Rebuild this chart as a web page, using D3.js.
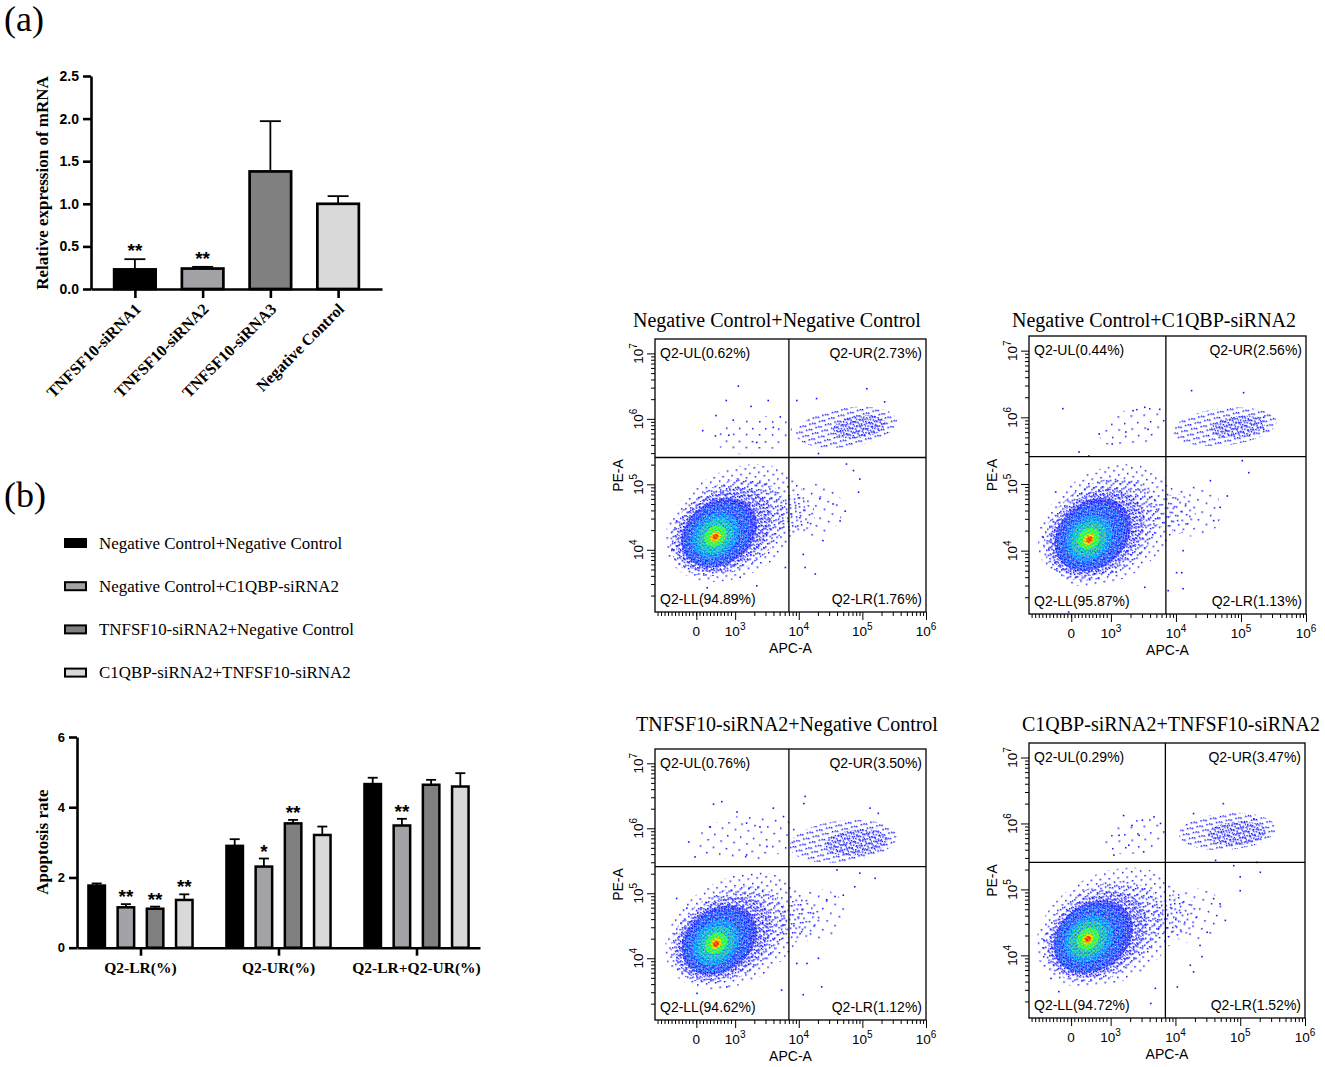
<!DOCTYPE html>
<html>
<head>
<meta charset="utf-8">
<script src="https://cdn.jsdelivr.net/npm/d3@7"></script>
<style>
  body { margin: 0; background: #fff; }
  svg { display: block; }
</style>
</head>
<body>
<svg id="fig" width="1325" height="1067"></svg>
<script>
// ---------- (a) relative mRNA expression ----------
const mrnaGroups = ["TNFSF10-siRNA1", "TNFSF10-siRNA2", "TNFSF10-siRNA3", "Negative Control"];
const mrnaMean = [0.23, 0.24, 1.38, 1.00];
const mrnaErr = [0.12, 0.02, 0.59, 0.09];
const mrnaSig = ["**", "**", "", ""];
const mrnaTicks = [0, 0.5, 1.0, 1.5, 2.0, 2.5];

// ---------- (b) apoptosis rate ----------
const apoSeries = ["Negative Control+Negative Control", "Negative Control+C1QBP-siRNA2",
  "TNFSF10-siRNA2+Negative Control", "C1QBP-siRNA2+TNFSF10-siRNA2"];
const apoGroups = ["Q2-LR(%)", "Q2-UR(%)", "Q2-LR+Q2-UR(%)"];
const apoMean = [[1.77, 1.15, 1.11, 1.36], [2.90, 2.31, 3.54, 3.21], [4.66, 3.48, 4.64, 4.59]];
const apoErr = [[0.06, 0.09, 0.06, 0.16], [0.19, 0.23, 0.10, 0.24], [0.18, 0.19, 0.14, 0.38]];
const apoSig = [["", "**", "**", "**"], ["", "*", "**", ""], ["", "**", "", ""]];
const apoTicks = [0, 2, 4, 6];

const barFills = ["#000000", "#a3a3a7", "#808080", "#d9d9d9"];

// ---------- flow cytometry panels (display decades, biexponential axis) ----------
const flowTitles = ["Negative Control+Negative Control", "Negative Control+C1QBP-siRNA2",
  "TNFSF10-siRNA2+Negative Control", "C1QBP-siRNA2+TNFSF10-siRNA2"];
// UL, UR, LL, LR
const flowQuadrants = [
  ["0.62", "2.73", "94.89", "1.76"],
  ["0.44", "2.56", "95.87", "1.13"],
  ["0.76", "3.50", "94.62", "1.12"],
  ["0.29", "3.47", "94.72", "1.52"]
];
const gateX = 3.845, gateY = 5.41;
const xTickValues = [2.39, 3, 4, 5, 6];
const xTickBase = ["0", "10", "10", "10", "10"];
const xTickExp = ["", "3", "4", "5", "6"];
const yTickValues = [4, 5, 6, 7];
const yTickExp = ["4", "5", "6", "7"];

// density layers: [layer, cx, cy, rx, ry, angle]
const flowPopulations = [
  [["halo", 3.00, 4.41, 1.18, 0.80, -30], ["sparse", 2.89, 4.34, 0.98, 0.66, -30],
   ["medium", 2.82, 4.30, 0.82, 0.57, -32], ["dense", 2.75, 4.26, 0.64, 0.48, -35],
   ["cyanSpeck", 2.72, 4.24, 0.56, 0.43, -38], ["cyan", 2.69, 4.22, 0.40, 0.31, -40],
   ["greenSpeck", 2.69, 4.21, 0.31, 0.24, -40], ["green", 2.69, 4.21, 0.19, 0.15, -42],
   ["yellow", 2.69, 4.20, 0.10, 0.075, -45], ["red", 2.69, 4.20, 0.05, 0.04, -45],
   ["halo", 3.95, 4.55, 0.30, 0.30, -30], ["trace", 4.25, 4.60, 0.45, 0.40, -30],
   ["trace", 3.30, 5.75, 0.60, 0.28, -10],
   ["sparse", 4.75, 5.87, 0.80, 0.30, -8], ["medium", 4.95, 5.88, 0.42, 0.17, -8]],
  [["halo", 2.95, 4.38, 1.15, 0.82, -32], ["sparse", 2.85, 4.32, 0.96, 0.68, -34],
   ["medium", 2.78, 4.27, 0.80, 0.58, -36], ["dense", 2.72, 4.24, 0.64, 0.49, -40],
   ["cyanSpeck", 2.69, 4.21, 0.56, 0.43, -42], ["cyan", 2.67, 4.19, 0.39, 0.31, -45],
   ["greenSpeck", 2.66, 4.18, 0.30, 0.24, -45], ["green", 2.66, 4.18, 0.18, 0.15, -45],
   ["yellow", 2.66, 4.17, 0.10, 0.075, -45], ["red", 2.67, 4.17, 0.05, 0.04, -45],
   ["halo", 4.00, 4.55, 0.30, 0.30, -30], ["trace", 4.30, 4.60, 0.40, 0.40, -30],
   ["trace", 3.35, 5.85, 0.55, 0.28, -15],
   ["sparse", 4.75, 5.86, 0.80, 0.28, -6], ["medium", 4.95, 5.86, 0.42, 0.16, -6]],
  [["halo", 3.00, 4.42, 1.18, 0.80, -30], ["sparse", 2.90, 4.36, 0.98, 0.66, -30],
   ["medium", 2.82, 4.31, 0.82, 0.57, -32], ["dense", 2.75, 4.28, 0.64, 0.48, -35],
   ["cyanSpeck", 2.72, 4.26, 0.56, 0.43, -38], ["cyan", 2.70, 4.24, 0.40, 0.31, -40],
   ["greenSpeck", 2.70, 4.23, 0.31, 0.24, -40], ["green", 2.70, 4.23, 0.19, 0.15, -42],
   ["yellow", 2.70, 4.23, 0.10, 0.075, -45], ["red", 2.70, 4.22, 0.05, 0.04, -45],
   ["halo", 4.00, 4.60, 0.35, 0.30, -30], ["trace", 4.30, 4.65, 0.45, 0.40, -30],
   ["trace", 3.20, 5.85, 0.80, 0.35, -5],
   ["sparse", 4.70, 5.80, 0.85, 0.32, -6], ["medium", 4.90, 5.78, 0.50, 0.20, -6]],
  [["halo", 2.98, 4.42, 1.20, 0.82, -28], ["sparse", 2.88, 4.36, 0.99, 0.68, -30],
   ["medium", 2.80, 4.31, 0.82, 0.58, -32], ["dense", 2.73, 4.28, 0.66, 0.50, -35],
   ["cyanSpeck", 2.69, 4.26, 0.58, 0.45, -38], ["cyan", 2.66, 4.25, 0.41, 0.32, -40],
   ["greenSpeck", 2.65, 4.25, 0.32, 0.25, -40], ["green", 2.65, 4.25, 0.19, 0.15, -42],
   ["yellow", 2.65, 4.25, 0.10, 0.075, -45], ["red", 2.65, 4.25, 0.05, 0.04, -45],
   ["halo", 4.00, 4.60, 0.35, 0.32, -35], ["trace", 4.30, 4.60, 0.45, 0.40, -35],
   ["trace", 3.40, 5.80, 0.50, 0.25, -15],
   ["sparse", 4.80, 5.88, 0.75, 0.28, -4], ["medium", 4.95, 5.85, 0.45, 0.18, -4]]
];

// isolated events: [APC, PE]
const flowEvents = [
  [[3.05,6.50],[2.86,6.28],[3.25,6.19],[3.52,6.28],[2.70,6.05],[2.97,5.98],[2.49,5.82],[2.69,5.74],
   [2.90,5.75],[3.34,5.64],[3.71,6.03],[3.60,5.87],[4.31,5.47],[4.75,5.31],[4.86,5.21],[4.96,5.08],
   [4.94,4.88],[4.73,4.59],[4.65,4.44],[4.38,4.14],[4.10,3.73],[4.26,3.63],[3.79,3.73],[4.07,3.93],
   [4.33,4.78],[4.54,4.70],[5.07,6.46],[5.35,6.26],[3.97,6.28],[4.28,6.31],[2.01,4.01],[2.56,3.42],
   [3.34,3.45],[3.08,3.58],[2.08,4.44]],
  [[2.26,6.13],[2.82,5.75],[3.02,5.60],[3.34,6.10],[3.52,6.15],[3.75,6.12],[3.57,5.82],[3.23,5.78],
   [2.51,5.48],[2.66,5.42],[4.24,6.40],[5.04,6.37],[5.35,6.00],[5.35,5.82],[5.02,5.35],[5.12,5.17],
   [4.53,5.05],[4.68,4.65],[4.58,4.45],[4.11,4.00],[4.01,3.67],[4.09,3.67],[3.88,3.40],[3.52,3.45],
   [3.08,3.68],[2.35,3.08],[1.96,4.20],[2.15,4.88],[4.11,3.43],[4.79,4.82]],
  [[2.79,6.41],[2.66,6.37],[3.03,6.25],[3.60,6.31],[4.10,6.49],[4.08,6.38],[3.76,6.18],[2.27,5.79],
   [2.37,5.56],[2.61,6.02],[3.18,6.08],[3.39,6.02],[3.50,5.72],[3.18,5.59],[5.12,6.31],[5.25,6.23],
   [4.60,5.36],[4.96,5.31],[5.20,5.23],[4.88,5.10],[4.57,4.95],[4.70,4.97],[4.44,4.90],[4.23,4.69],
   [4.02,4.38],[3.97,3.92],[4.13,3.92],[4.31,4.00],[4.36,3.56],[4.07,3.44],[3.73,3.51],[2.08,4.92],
   [2.24,4.77],[2.40,3.46],[2.87,3.56]],
  [[3.20,6.12],[3.33,5.97],[3.49,6.05],[3.13,5.82],[3.28,5.67],[3.67,6.10],[3.44,5.82],[3.05,5.52],
   [3.51,5.57],[3.77,6.00],[4.28,6.15],[4.74,6.30],[5.21,6.07],[4.62,5.44],[4.90,5.36],[5.26,5.41],
   [5.31,5.26],[5.00,5.19],[5.00,4.98],[4.59,4.86],[4.69,4.78],[4.77,4.53],[4.38,4.15],[4.41,3.98],
   [4.49,4.35],[4.23,3.85],[4.03,3.52],[3.69,3.50],[3.62,3.27],[2.20,3.45],[2.08,3.65],[1.97,4.23],
   [4.28,3.75]]
];

// ---------- layout ----------
const SANS = "'Liberation Sans', Arial, sans-serif";
const SERIF = "'Liberation Serif', 'Times New Roman', serif";
const BLUE = "#1212ff";

const flowBoxes = [
  { l: 655, r: 926, t: 339, b: 612, tx: 777, ty: 327 },
  { l: 1029, r: 1306, t: 336, b: 614, tx: 1154, ty: 327 },
  { l: 655, r: 926, t: 749, b: 1020, tx: 787, ty: 731 },
  { l: 1029, r: 1305, t: 743, b: 1018, tx: 1171, ty: 731 }
];
const flowXDomain = [1.74, 6.0];
const flowYDomain = [3.05, 7.22];

// dot textures used to shade the density layers
const dotPatterns = {
  trace:      { size: 13, rot: 11, dots: [[2, 3, BLUE], [9, 9, BLUE]] },
  halo:       { size: 9, rot: 23, dots: [[1, 2, BLUE], [6, 6, BLUE]] },
  sparse:     { size: 7, rot: 37, dots: [[3, 0, BLUE], [0, 4, BLUE], [5, 5, BLUE]] },
  medium:     { size: 5, rot: -19, dots: [[1, 1, BLUE], [3.5, 3, BLUE], [4, 0, "#2030ff"]] },
  dense:      { size: 4, rot: 8, dots: [[0, 0, BLUE], [2, 0.5, "#1040ff"], [1, 2, BLUE], [3, 2.5, BLUE], [0, 3, "#2060ff"]] },
  cyanSpeck:  { size: 5, rot: 29, dots: [[1, 1, "#00b4ff"], [3.5, 3.2, "#00d8ff"]] },
  cyan:       { size: 4, rot: -13, dots: [[0, 0, "#00c8ff"], [2, 1, "#00e8ff"], [1, 2.5, "#00a8ff"], [3, 3, "#30ffe0"]] },
  greenSpeck: { size: 4, rot: 41, dots: [[0, 0, "#20ff60"], [2.2, 2, "#80ff20"], [1, 3, "#00e8c0"]] },
  green:      { size: 3, rot: 17, dots: [[0, 0, "#40ff00"], [1.5, 1.5, "#00ff60"], [1.5, 0, "#c0ff00"], [0, 1.5, "#00ffb0"]] },
  yellow:     { size: 3, rot: -27, dots: [[0, 0, "#ffff00"], [1.5, 1.5, "#ffc000"], [1.5, 0, "#ff8000"], [0, 1.5, "#e0ff00"]] },
  red:        { size: 3, rot: 0, dots: [[0, 0, "#ff0000"], [1.5, 1.5, "#ff4000"], [1.5, 0, "#ff8000"], [0, 1.5, "#ff2000"]] }
};

const svg = d3.select("#fig");
const defs = svg.append("defs");

Object.entries(dotPatterns).forEach(([name, p]) => {
  const pat = defs.append("pattern")
    .attr("id", "dots-" + name)
    .attr("patternUnits", "userSpaceOnUse")
    .attr("patternTransform", `rotate(${p.rot})`)
    .attr("width", p.size)
    .attr("height", p.size);
  pat.selectAll("rect").data(p.dots).join("rect")
    .attr("x", d => d[0]).attr("y", d => d[1])
    .attr("width", 1.5).attr("height", 1.5)
    .attr("fill", d => d[2]);
});

// panel letters
svg.append("text").attr("x", 4).attr("y", 31).text("(a)")
  .style("font-family", SERIF).style("font-size", "36px");
svg.append("text").attr("x", 4).attr("y", 507).text("(b)")
  .style("font-family", SERIF).style("font-size", "36px");

function styleAxis(g, width, fontSize) {
  g.selectAll("path, line").attr("stroke", "#000").attr("stroke-width", width);
  g.selectAll("text").attr("fill", "#000")
    .style("font-family", SANS).style("font-weight", "bold").style("font-size", fontSize);
}

// ---------- chart (a) ----------
(function () {
  const x = d3.scalePoint().domain(mrnaGroups).range([91, 382]).padding(0.648);
  const y = d3.scaleLinear().domain([0, 2.5]).range([289, 76]);
  const g = svg.append("g");
  const barW = 41.5;

  const bars = g.selectAll("g.bar").data(mrnaGroups).join("g").attr("class", "bar");
  bars.append("line")
    .attr("x1", d => x(d)).attr("x2", d => x(d))
    .attr("y1", (d, i) => y(mrnaMean[i])).attr("y2", (d, i) => y(mrnaMean[i] + mrnaErr[i]))
    .attr("stroke", "#000").attr("stroke-width", 1.8);
  bars.append("line")
    .attr("x1", d => x(d) - 10.5).attr("x2", d => x(d) + 10.5)
    .attr("y1", (d, i) => y(mrnaMean[i] + mrnaErr[i])).attr("y2", (d, i) => y(mrnaMean[i] + mrnaErr[i]))
    .attr("stroke", "#000").attr("stroke-width", 1.8);
  bars.append("rect")
    .attr("x", d => x(d) - barW / 2).attr("width", barW)
    .attr("y", (d, i) => y(mrnaMean[i])).attr("height", (d, i) => y(0) - y(mrnaMean[i]))
    .attr("fill", (d, i) => barFills[i]).attr("stroke", "#000").attr("stroke-width", 2.7);
  bars.append("text")
    .attr("x", d => x(d)).attr("y", (d, i) => y(mrnaMean[i] + mrnaErr[i]) - 2)
    .attr("text-anchor", "middle").text((d, i) => mrnaSig[i])
    .style("font-family", SANS).style("font-weight", "bold").style("font-size", "19px");

  g.append("g").attr("transform", "translate(91,0)")
    .call(d3.axisLeft(y).tickValues(mrnaTicks).tickFormat(d3.format(".1f")).tickSize(8).tickSizeOuter(0).tickPadding(4))
    .call(a => styleAxis(a, 2.6, "14px"));
  g.append("g").attr("transform", "translate(0,289)")
    .call(d3.axisBottom(x).tickSize(9).tickSizeOuter(0).tickFormat(""))
    .call(a => styleAxis(a, 2.6, "13px"));

  g.selectAll("text.xlab").data(mrnaGroups).join("text").attr("class", "xlab")
    .attr("transform", d => `translate(${x(d) + 7},310) rotate(-45)`)
    .attr("text-anchor", "end").text(d => d)
    .style("font-family", SERIF).style("font-weight", "bold").style("font-size", "16px");

  g.append("text").attr("transform", "translate(48,183) rotate(-90)")
    .attr("text-anchor", "middle").text("Relative expression of mRNA")
    .style("font-family", SERIF).style("font-weight", "bold").style("font-size", "17px");
})();

// ---------- legend (b) ----------
(function () {
  const lg = svg.append("g").selectAll("g").data(apoSeries).join("g")
    .attr("transform", (d, i) => `translate(65,${543 + i * 43.2})`);
  lg.append("rect").attr("x", 0).attr("y", -4).attr("width", 21).attr("height", 8)
    .attr("fill", (d, i) => barFills[i]).attr("stroke", "#000").attr("stroke-width", 2);
  lg.append("text").attr("x", 34).attr("y", 5.5).text(d => d)
    .style("font-family", SERIF).style("font-size", "16.9px");
})();

// ---------- chart (b) ----------
(function () {
  const xg = d3.scalePoint().domain(apoGroups).range([77, 480]).padding(0.46);
  const xs = d3.scalePoint().domain(apoSeries).range([-43.8, 43.8]);
  const y = d3.scaleLinear().domain([0, 6]).range([947.7, 737]);
  const g = svg.append("g");
  const barW = 16.5;

  const cells = [];
  apoGroups.forEach((grp, gi) => apoSeries.forEach((s, si) => cells.push({ grp, s, gi, si })));
  const bars = g.selectAll("g.bar").data(cells).join("g").attr("class", "bar");
  const cx = d => xg(d.grp) + xs(d.s);
  const top = d => y(apoMean[d.gi][d.si] + apoErr[d.gi][d.si]);
  bars.append("line")
    .attr("x1", cx).attr("x2", cx)
    .attr("y1", d => y(apoMean[d.gi][d.si])).attr("y2", top)
    .attr("stroke", "#000").attr("stroke-width", 1.8);
  bars.append("line")
    .attr("x1", d => cx(d) - 5).attr("x2", d => cx(d) + 5)
    .attr("y1", top).attr("y2", top)
    .attr("stroke", "#000").attr("stroke-width", 1.8);
  bars.append("rect")
    .attr("x", d => cx(d) - barW / 2).attr("width", barW)
    .attr("y", d => y(apoMean[d.gi][d.si])).attr("height", d => y(0) - y(apoMean[d.gi][d.si]))
    .attr("fill", d => barFills[d.si]).attr("stroke", "#000").attr("stroke-width", 2.5);
  bars.append("text")
    .attr("x", cx).attr("y", d => top(d) - 1)
    .attr("text-anchor", "middle").text(d => apoSig[d.gi][d.si])
    .style("font-family", SANS).style("font-weight", "bold").style("font-size", "19px");

  g.append("g").attr("transform", "translate(77,0)")
    .call(d3.axisLeft(y).tickValues(apoTicks).tickFormat(d3.format("d")).tickSize(8).tickSizeOuter(0).tickPadding(4))
    .call(a => styleAxis(a, 2.6, "13px"));
  g.append("g").attr("transform", "translate(0,947.7)")
    .call(d3.axisBottom(xg).tickSize(8).tickSizeOuter(0).tickFormat(""))
    .call(a => styleAxis(a, 2.6, "13px"));

  g.selectAll("text.xlab").data(apoGroups).join("text").attr("class", "xlab")
    .attr("x", d => xg(d)).attr("y", 973).attr("text-anchor", "middle").text(d => d)
    .style("font-family", SERIF).style("font-weight", "bold").style("font-size", "15.5px");

  g.append("text").attr("transform", "translate(48,842) rotate(-90)")
    .attr("text-anchor", "middle").text("Apoptosis rate")
    .style("font-family", SERIF).style("font-weight", "bold").style("font-size", "17px");
})();

// ---------- flow cytometry panels ----------
const xMinorTicks = d3.range(1.78, 2.98, 0.055)
  .concat([3, 4, 5].flatMap(k => d3.range(2, 10).map(m => k + Math.log10(m))));
const yMinorTicks = [3, 4, 5, 6, 7].flatMap(k => d3.range(2, 10).map(m => k + Math.log10(m)))
  .filter(v => v > flowYDomain[0] && v < flowYDomain[1]);

function drawFlow(i) {
  const box = flowBoxes[i];
  const x = d3.scaleLinear().domain(flowXDomain).range([box.l, box.r]);
  const y = d3.scaleLinear().domain(flowYDomain).range([box.b, box.t]);
  const g = svg.append("g");

  defs.append("clipPath").attr("id", "clip" + i).append("rect")
    .attr("x", box.l).attr("y", box.t).attr("width", box.r - box.l).attr("height", box.b - box.t);
  const plot = g.append("g").attr("clip-path", `url(#clip${i})`);

  plot.selectAll("ellipse").data(flowPopulations[i]).join("ellipse")
    .attr("cx", d => x(d[1])).attr("cy", d => y(d[2]))
    .attr("rx", d => x(d[3]) - x(0)).attr("ry", d => y(0) - y(d[4]))
    .attr("transform", d => `rotate(${d[5]},${x(d[1])},${y(d[2])})`)
    .attr("fill", d => `url(#dots-${d[0]})`);

  plot.selectAll("rect.ev").data(flowEvents[i]).join("rect").attr("class", "ev")
    .attr("x", d => x(d[0]) - 0.8).attr("y", d => y(d[1]) - 0.8)
    .attr("width", 1.6).attr("height", 1.6).attr("fill", BLUE);

  // quadrant gates
  g.append("line").attr("x1", x(gateX)).attr("x2", x(gateX)).attr("y1", box.t).attr("y2", box.b)
    .attr("stroke", "#000").attr("stroke-width", 1.3);
  g.append("line").attr("x1", box.l).attr("x2", box.r).attr("y1", y(gateY)).attr("y2", y(gateY))
    .attr("stroke", "#000").attr("stroke-width", 1.3);
  g.append("rect").attr("x", box.l).attr("y", box.t)
    .attr("width", box.r - box.l).attr("height", box.b - box.t)
    .attr("fill", "none").attr("stroke", "#000").attr("stroke-width", 1.3);

  // axes
  const noDomain = a => { a.select(".domain").remove(); a.selectAll("line").attr("stroke", "#000"); };
  g.append("g").attr("transform", `translate(0,${box.b})`)
    .call(d3.axisBottom(x).tickValues(xMinorTicks).tickSize(4).tickFormat("")).call(noDomain);
  g.append("g").attr("transform", `translate(0,${box.b})`)
    .call(d3.axisBottom(x).tickValues(xTickValues).tickSize(8).tickFormat("")).call(noDomain);
  g.append("g").attr("transform", `translate(${box.l},0)`)
    .call(d3.axisLeft(y).tickValues(yMinorTicks).tickSize(4).tickFormat("")).call(noDomain);
  g.append("g").attr("transform", `translate(${box.l},0)`)
    .call(d3.axisLeft(y).tickValues(yTickValues).tickSize(8).tickFormat("")).call(noDomain);

  const xl = g.selectAll("text.xt").data(xTickValues).join("text").attr("class", "xt")
    .attr("x", d => x(d)).attr("y", box.b + 24).attr("text-anchor", "middle")
    .style("font-family", SANS).style("font-size", "13.5px");
  xl.append("tspan").text((d, j) => xTickBase[j]);
  xl.append("tspan").attr("dy", -6).style("font-size", "10px").text((d, j) => xTickExp[j]);

  const yl = g.selectAll("text.yt").data(yTickValues).join("text").attr("class", "yt")
    .attr("transform", d => `translate(${box.l - 12},${y(d)}) rotate(-90)`).attr("text-anchor", "middle")
    .style("font-family", SANS).style("font-size", "13.5px");
  yl.append("tspan").text("10");
  yl.append("tspan").attr("dy", -6).style("font-size", "10px").text((d, j) => yTickExp[j]);

  g.append("text").attr("x", (box.l + box.r) / 2).attr("y", box.b + 41).attr("text-anchor", "middle")
    .text("APC-A").style("font-family", SANS).style("font-size", "14px");
  g.append("text").attr("transform", `translate(${box.l - 32},${(box.t + box.b) / 2}) rotate(-90)`)
    .attr("text-anchor", "middle").text("PE-A").style("font-family", SANS).style("font-size", "14px");

  // quadrant percentages
  const q = flowQuadrants[i];
  const qText = [
    { t: `Q2-UL(${q[0]}%)`, x: box.l + 5, y: box.t + 19, a: "start" },
    { t: `Q2-UR(${q[1]}%)`, x: box.r - 4, y: box.t + 19, a: "end" },
    { t: `Q2-LL(${q[2]}%)`, x: box.l + 5, y: box.b - 8, a: "start" },
    { t: `Q2-LR(${q[3]}%)`, x: box.r - 4, y: box.b - 8, a: "end" }
  ];
  g.selectAll("text.q").data(qText).join("text").attr("class", "q")
    .attr("x", d => d.x).attr("y", d => d.y).attr("text-anchor", d => d.a).text(d => d.t)
    .style("font-family", SANS).style("font-size", "14px");

  g.append("text").attr("x", box.tx).attr("y", box.ty).attr("text-anchor", "middle")
    .text(flowTitles[i]).style("font-family", SERIF).style("font-size", "20px");
}

flowTitles.forEach((t, i) => drawFlow(i));
</script>
</body>
</html>
